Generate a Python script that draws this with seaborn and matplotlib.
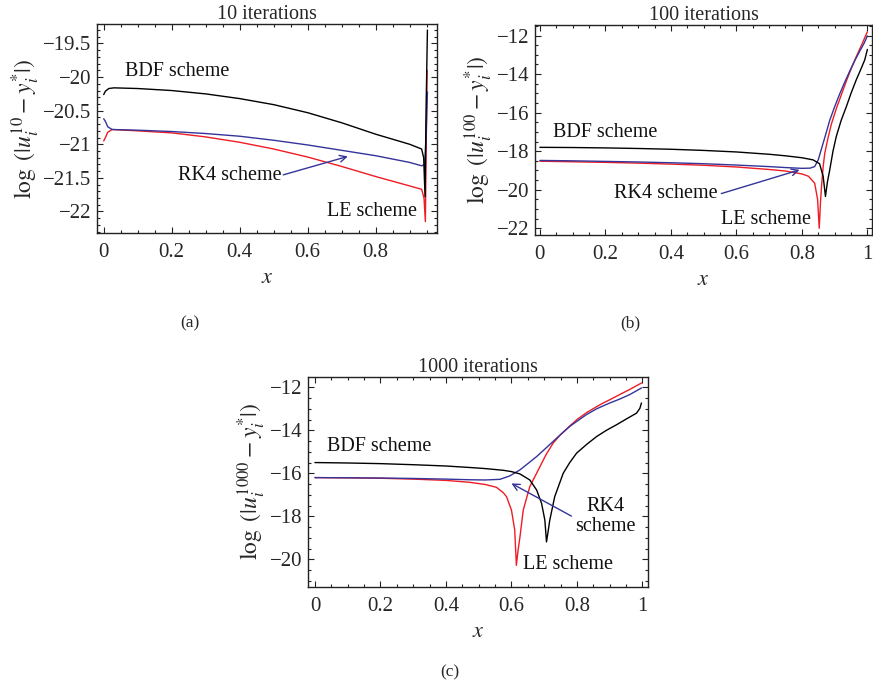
import numpy as np
import pandas as pd
import matplotlib
matplotlib.use("Agg")
import matplotlib.pyplot as plt
from matplotlib.ticker import FuncFormatter, AutoMinorLocator
import seaborn as sns

# ---------------- data ----------------
schemes = ["LE", "RK4", "BDF"]
colors = {"BDF": "#000000", "RK4": "#34349a", "LE": "#ee1c24"}

# (a) 10 iterations
a_bdf_x = [0, 0.005, 0.015, 0.03, 0.1, 0.2, 0.3, 0.4, 0.5, 0.6, 0.7, 0.8, 0.9, 0.935, 0.941, 0.945, 0.948, 0.952]
a_bdf_y = [-20.26, -20.21, -20.17, -20.16, -20.17, -20.2, -20.25, -20.32, -20.41, -20.53, -20.68, -20.85, -21.0, -21.07, -21.2, -21.78, -20.5, -19.3]
a_rk4_x = [0, 0.005, 0.012, 0.025, 0.1, 0.2, 0.3, 0.4, 0.5, 0.6, 0.7, 0.8, 0.9, 0.935, 0.944, 0.948, 0.952]
a_rk4_y = [-20.62, -20.66, -20.74, -20.78, -20.79, -20.81, -20.84, -20.88, -20.94, -21.01, -21.09, -21.17, -21.27, -21.32, -21.3, -20.9, -20.22]
a_le_x = [0, 0.005, 0.012, 0.025, 0.1, 0.2, 0.3, 0.4, 0.5, 0.6, 0.7, 0.8, 0.9, 0.935, 0.942, 0.946, 0.951]
a_le_y = [-20.95, -20.9, -20.82, -20.78, -20.8, -20.83, -20.89, -20.97, -21.07, -21.19, -21.33, -21.48, -21.62, -21.67, -21.8, -22.15, -19.9]

# (b) 100 iterations
b_bdf_x = [0, 0.1, 0.2, 0.3, 0.4, 0.5, 0.6, 0.7, 0.75, 0.8, 0.834, 0.854, 0.865, 0.872, 0.878, 0.885, 0.895, 0.905, 0.92, 0.936, 0.95, 0.966, 0.98, 0.992, 1.0]
b_bdf_y = [-17.8, -17.81, -17.83, -17.86, -17.9, -17.96, -18.04, -18.16, -18.24, -18.34, -18.45, -18.65, -19.3, -20.35, -19.6, -18.98, -18.0, -17.24, -16.4, -15.68, -15.0, -14.3, -13.75, -13.26, -12.72]
b_rk4_x = [0, 0.1, 0.2, 0.3, 0.4, 0.5, 0.6, 0.7, 0.75, 0.8, 0.825, 0.839, 0.85, 0.865, 0.875, 0.885, 0.9, 0.915, 0.93, 0.946, 0.96, 0.977, 0.99, 1.0]
b_rk4_y = [-18.48, -18.5, -18.53, -18.56, -18.6, -18.65, -18.72, -18.8, -18.85, -18.89, -18.88, -18.8, -18.45, -17.58, -17.0, -16.4, -15.7, -15.05, -14.45, -13.85, -13.35, -12.8, -12.4, -12.02]
b_le_x = [0, 0.1, 0.2, 0.3, 0.4, 0.5, 0.6, 0.7, 0.75, 0.8, 0.82, 0.839, 0.848, 0.853, 0.857, 0.86, 0.865, 0.87, 0.88, 0.89, 0.905, 0.921, 0.936, 0.951, 0.966, 0.982, 1.0]
b_le_y = [-18.52, -18.55, -18.58, -18.62, -18.67, -18.73, -18.82, -18.95, -19.03, -19.18, -19.3, -19.66, -20.5, -22.0, -20.6, -19.84, -18.8, -18.1, -17.3, -16.6, -15.8, -15.05, -14.35, -13.7, -13.1, -12.5, -11.8]

# (c) 1000 iterations
c_bdf_x = [0, 0.1, 0.2, 0.3, 0.4, 0.473, 0.52, 0.575, 0.6, 0.626, 0.656, 0.677, 0.692, 0.702, 0.707, 0.712, 0.717, 0.732, 0.758, 0.778, 0.799, 0.83, 0.86, 0.89, 0.921, 0.95, 0.982, 0.992, 0.997]
c_bdf_y = [-15.5, -15.52, -15.55, -15.6, -15.66, -15.73, -15.78, -15.86, -15.92, -16.03, -16.31, -16.78, -17.4, -18.18, -19.19, -18.7, -18.18, -17.09, -16.0, -15.5, -15.06, -14.65, -14.29, -14.0, -13.74, -13.48, -13.2, -12.98, -12.73]
c_rk4_x = [0, 0.1, 0.2, 0.3, 0.4, 0.473, 0.52, 0.565, 0.595, 0.626, 0.65, 0.677, 0.7, 0.727, 0.75, 0.778, 0.8, 0.829, 0.86, 0.9, 0.93, 0.961, 0.997]
c_rk4_y = [-16.2, -16.21, -16.22, -16.24, -16.27, -16.3, -16.31, -16.28, -16.12, -15.84, -15.55, -15.22, -14.9, -14.52, -14.2, -13.82, -13.58, -13.27, -13.0, -12.73, -12.55, -12.34, -12.03]
c_le_x = [0, 0.1, 0.2, 0.3, 0.4, 0.473, 0.52, 0.554, 0.575, 0.585, 0.6, 0.61, 0.615, 0.62, 0.626, 0.636, 0.656, 0.687, 0.705, 0.727, 0.75, 0.778, 0.8, 0.829, 0.86, 0.88, 0.9, 0.93, 0.961, 0.997]
c_le_y = [-16.2, -16.21, -16.23, -16.27, -16.33, -16.42, -16.52, -16.65, -16.9, -17.09, -17.71, -18.64, -20.28, -19.6, -18.96, -17.71, -16.62, -15.69, -15.15, -14.6, -14.2, -13.8, -13.5, -13.18, -12.9, -12.73, -12.58, -12.34, -12.1, -11.8]

titles = ["10 iterations", "100 iterations", "1000 iterations"]
ylabels = [r"$\log\ (|u_i^{10} - y_i^{*}|)$",
           r"$\log\ (|u_i^{100} - y_i^{*}|)$",
           r"$\log\ (|u_i^{1000} - y_i^{*}|)$"]
panel_tags = ["(a)", "(b)", "(c)"]
xticks_list = [[0, 0.2, 0.4, 0.6, 0.8], [0, 0.2, 0.4, 0.6, 0.8, 1], [0, 0.2, 0.4, 0.6, 0.8, 1]]
yticks_list = [[-22, -21.5, -21, -20.5, -20, -19.5], [-22, -20, -18, -16, -14, -12], [-20, -18, -16, -14, -12]]

# ---------------- style ----------------
sns.set_style("ticks")
plt.rcParams["font.family"] = ["Liberation Serif", "DejaVu Serif"]
plt.rcParams["mathtext.fontset"] = "stix"
plt.rcParams["axes.unicode_minus"] = True

def build(bx, by, rx, ry, lx, ly):
    parts = []
    for name, xs, ys in (("LE", lx, ly), ("RK4", rx, ry), ("BDF", bx, by)):
        parts.append(pd.DataFrame({"x": xs, "y": ys, "scheme": name}))
    return pd.concat(parts, ignore_index=True)

dfs = [build(a_bdf_x, a_bdf_y, a_rk4_x, a_rk4_y, a_le_x, a_le_y),
       build(b_bdf_x, b_bdf_y, b_rk4_x, b_rk4_y, b_le_x, b_le_y),
       build(c_bdf_x, c_bdf_y, c_rk4_x, c_rk4_y, c_le_x, c_le_y)]

fig = plt.figure(figsize=(8.73, 6.92), dpi=100)
rects = [[0.111, 0.6633, 0.3895, 0.302],
         [0.6128, 0.6604, 0.386, 0.3035],
         [0.3525, 0.1517, 0.3898, 0.3035]]
xlims = [(-0.02, 0.98), (-0.015, 1.014), (-0.022, 1.017)]
ylims = [(-22.32, -19.21), (-22.35, -11.45), (-21.29, -11.52)]
yminor = [5, 4, 4]

def fmt(v, pos):
    s = f"{v:g}"
    return s.replace("-", "\u2212")

axes = []
for i in range(3):
    ax = fig.add_axes(rects[i])
    sns.lineplot(data=dfs[i], x="x", y="y", hue="scheme", hue_order=schemes,
                 palette=colors, estimator=None, sort=False, legend=False,
                 linewidth=1.0, ax=ax)
    ax.set_xlim(*xlims[i])
    ax.set_ylim(*ylims[i])
    ax.set_xticks(xticks_list[i])
    ax.set_yticks(yticks_list[i])
    ax.xaxis.set_major_formatter(FuncFormatter(fmt))
    ax.yaxis.set_major_formatter(FuncFormatter(fmt))
    ax.xaxis.set_minor_locator(AutoMinorLocator(4))
    ax.yaxis.set_minor_locator(AutoMinorLocator(yminor[i]))
    ax.tick_params(which="both", direction="in", top=True, right=True,
                   labelsize=15, width=0.8, color="#222222")
    ax.tick_params(which="major", length=4.5)
    ax.tick_params(which="minor", length=2.5)
    ax.tick_params(axis="x", pad=7)
    ax.tick_params(axis="y", pad=4)
    for sp in ax.spines.values():
        sp.set_linewidth(1.0)
        sp.set_color("#222222")
    ax.set_xlabel("$x$", fontsize=16, labelpad=5)
    ax.set_ylabel(ylabels[i], fontsize=17, labelpad=1)
    ax.set_title(titles[i], fontsize=14.5, pad=3)
    axes.append(ax)

blue = colors["RK4"]
txt = dict(fontsize=14.5, color="#111111")
arrow = dict(arrowstyle="->", color=blue, lw=1.0, shrinkA=0, shrinkB=0, mutation_scale=12)

# (a)
ax = axes[0]
ax.text(0.215, -19.92, "BDF scheme", ha="center", va="center", **txt)
ax.text(0.522, -21.465, "RK4 scheme", ha="right", va="center", **txt)
ax.text(0.79, -22.0, "LE scheme", ha="center", va="center", **txt)
ax.annotate("", xy=(0.718, -21.18), xytext=(0.528, -21.455), arrowprops=arrow)

# (b)
ax = axes[1]
ax.text(0.198, -17.02, "BDF scheme", ha="center", va="center", **txt)
ax.text(0.544, -20.22, "RK4 scheme", ha="right", va="center", **txt)
ax.text(0.689, -21.57, "LE scheme", ha="center", va="center", **txt)
ax.annotate("", xy=(0.793, -18.97), xytext=(0.554, -20.2), arrowprops=arrow)

# (c)
ax = axes[2]
ax.text(0.195, -14.75, "BDF scheme", ha="center", va="center", **txt)
ax.text(0.888, -18.02, "RK4\nscheme", ha="center", va="center", linespacing=1.05, **txt)
ax.text(0.773, -20.23, "LE scheme", ha="center", va="center", **txt)
ax.annotate("", xy=(0.6, -16.47), xytext=(0.783, -17.99), arrowprops=arrow)

fig.text(0.2176, 0.5332, panel_tags[0], ha="center", va="center", fontsize=12.5)
fig.text(0.7216, 0.5332, panel_tags[1], ha="center", va="center", fontsize=12.5)
fig.text(0.5155, 0.0289, panel_tags[2], ha="center", va="center", fontsize=12.5)

fig.savefig("out.png", dpi=100, facecolor="white")
